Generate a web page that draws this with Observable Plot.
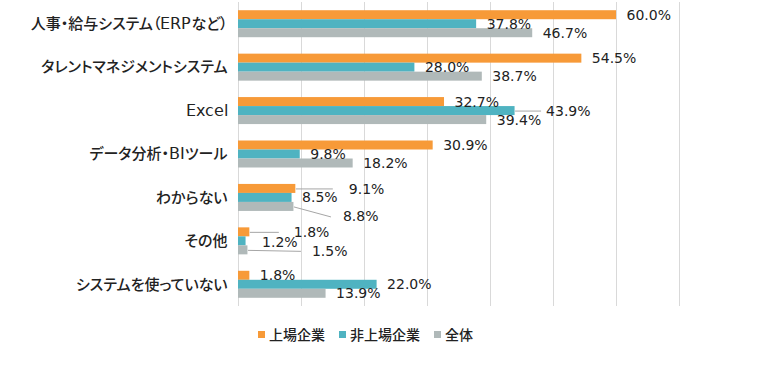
<!DOCTYPE html>
<html><head><meta charset="utf-8">
<script src="https://cdn.jsdelivr.net/npm/d3@7"></script>
<script src="https://cdn.jsdelivr.net/npm/@observablehq/plot@0.6"></script>
<style>
@font-face{font-family:"LatinWide";src:local("DejaVu Sans"),local("DejaVuSans");unicode-range:U+0020-007E;size-adjust:105%;}
body{margin:0;background:#fff;}
#chart{width:759px;}
#chart svg g[aria-label="y-axis tick label"] text{font-feature-settings:"palt";}
#legend{display:flex;justify-content:flex-start;margin-left:258px;margin-top:16px;font-family:"Noto Sans CJK JP",sans-serif;font-weight:500;font-size:14px;color:#222;}
.item{display:flex;align-items:center;margin-right:14px;}
.sw{width:7px;height:7px;margin-right:4px;display:inline-block;}
</style>
</head><body>
<div id="chart"></div>
<div id="legend"></div>
<script>
const categories = ["人事・給与システム（ERPなど）","タレントマネジメントシステム","Excel","データ分析・BIツール","わからない","その他","システムを使っていない"];
const seriesNames = ["上場企業","非上場企業","全体"];
const listed    = [60.0, 54.5, 32.7, 30.9, 9.1, 1.8, 1.8];
const unlisted  = [37.8, 28.0, 43.9, 9.8, 8.5, 1.2, 22.0];
const overall   = [46.7, 38.7, 39.4, 18.2, 8.8, 1.5, 13.9];
const xTicks = [0,10,20,30,40,50,60,70];
const colors = ["#F79A38","#4FB3C1","#B0B9B9"];

// layout (label offsets in px relative to bar end / bar center): [series, category, dx, dy]
const labelOffsets = [
  [1,2,31,0],[0,4,53,1],[2,4,49,10],[0,5,44,0],[1,5,16,1],[2,5,64,1]
];
// leader lines: [series, category, endDx, endDy]
const leaders = [
  [1,2,26,0],[0,4,37,0],[2,4,37,10],[0,5,29,0],[2,5,53,1]
];

const W = 759, H = 308, ML = 238, MR = 80, MT = 2, MB = 2;
const xPx = (W - ML - MR) / 70;
const yPx = (H - MT - MB) / categories.length;
const barH = 9 / yPx;

const seriesVals = [listed, unlisted, overall];
const rows = [];
seriesVals.forEach((vals, s) => vals.forEach((v, c) => {
  rows.push({s, c, series: seriesNames[s], value: v, yc: c + 0.5 + (s - 1) * barH});
}));
const offMap = new Map(labelOffsets.map(([s,c,dx,dy]) => [s+"-"+c, {dx, dy}]));

const marks = [
  Plot.gridX(xTicks, {stroke: "#d9d9d9", strokeOpacity: 1, strokeWidth: 1}),
  Plot.rectX(rows, {x1: 0, x2: "value", y1: d => d.yc - barH/2, y2: d => d.yc + barH/2, fill: d => colors[d.s]}),
  Plot.link(leaders.map(([s,c,ex,ey]) => {
    const r = rows.find(d => d.s === s && d.c === c);
    return {x1: r.value, y1: r.yc, x2: r.value + ex / xPx, y2: r.yc + ey / yPx};
  }), {x1: "x1", y1: "y1", x2: "x2", y2: "y2", stroke: "#a6a6a6", strokeWidth: 1})
];
rows.forEach(r => {
  const o = offMap.get(r.s + "-" + r.c) || {dx: 10, dy: 0};
  marks.push(Plot.text([r], {x: "value", y: d => d.yc + o.dy / yPx, text: d => d.value.toFixed(1) + "%",
    textAnchor: "start", dx: o.dx, fill: "#222", fontSize: 14, fontFamily: "DejaVu Sans, Verdana, sans-serif"}));
});

const chart = Plot.plot({
  width: W, height: H, marginLeft: ML, marginRight: MR, marginTop: MT, marginBottom: MB,
  style: {fontFamily: "LatinWide, 'Noto Sans CJK JP', sans-serif", fontSize: "15px", fontWeight: 500, color: "#222", background: "#fff"},
  x: {domain: [0, 70], axis: null},
  y: {domain: [0, categories.length], reverse: true, ticks: categories.map((_, i) => i + 0.5),
      tickFormat: t => categories[Math.floor(t)], tickSize: 0, tickPadding: 11, label: null},
  marks
});
document.getElementById("chart").appendChild(chart);

const lg = document.getElementById("legend");
seriesNames.forEach((n, i) => {
  const it = document.createElement("div"); it.className = "item";
  const sw = document.createElement("span"); sw.className = "sw"; sw.style.background = colors[i];
  const tx = document.createElement("span"); tx.textContent = n;
  it.appendChild(sw); it.appendChild(tx); lg.appendChild(it);
});
</script>
</body></html>
